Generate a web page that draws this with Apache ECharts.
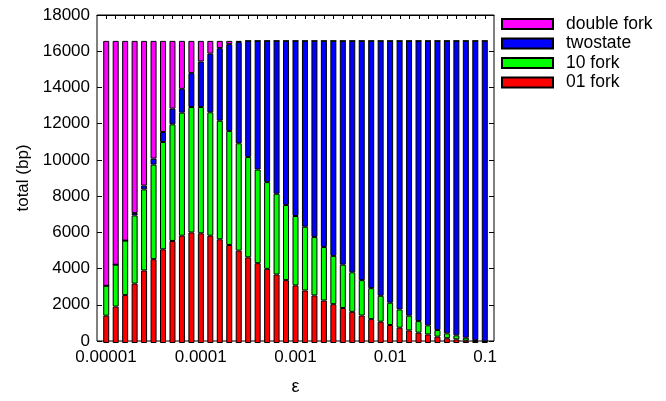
<!DOCTYPE html>
<html>
<head>
<meta charset="utf-8">
<script src="https://cdn.jsdelivr.net/npm/echarts@6/dist/echarts.min.js"></script>
<style>
  html, body { margin: 0; padding: 0; background: #fff; }
  #chart { width: 666px; height: 401px; }
</style>
</head>
<body>
<div id="chart"></div>
<script>
// epsilon values, ten per decade
var eps = [
  0.00001, 0.0000126, 0.0000158, 0.00002, 0.0000251, 0.0000316, 0.0000398, 0.0000501, 0.0000631, 0.0000794,
  0.0001, 0.000126, 0.000158, 0.0002, 0.000251, 0.000316, 0.000398, 0.000501, 0.000631, 0.000794,
  0.001, 0.00126, 0.00158, 0.002, 0.00251, 0.00316, 0.00398, 0.00501, 0.00631, 0.00794,
  0.01, 0.0126, 0.0158, 0.02, 0.0251, 0.0316, 0.0398, 0.0501, 0.0631, 0.0794,
  0.1
];
var fork01 = [1500, 2000, 2630, 3260, 3980, 4600, 5140, 5600, 5890, 6070,
  6020, 5890, 5690, 5380, 5070, 4700, 4380, 4070, 3760, 3450,
  3160, 2880, 2610, 2330, 2130, 1920, 1710, 1510, 1310, 1170,
  990, 840, 690, 570, 470, 350, 260, 200, 130, 110, 70];
var fork10 = [1640, 2300, 2990, 3740, 4450, 5190, 5890, 6400, 6750, 6880,
  6930, 6770, 6510, 6260, 5890, 5510, 5140, 4760, 4430, 4120,
  3810, 3500, 3210, 2940, 2650, 2380, 2170, 1940, 1700, 1420,
  1220, 1000, 810, 630, 500, 360, 270, 220, 160, 40, 20];
var twostate = [0, 0, 0, 130, 210, 330, 550, 860, 1310, 1860,
  2500, 3220, 3980, 4760, 5560, 6370, 7060, 7750, 8390, 9010,
  9610, 10200, 10760, 11310, 11800, 12280, 12700, 13130, 13570, 13990,
  14370, 14740, 15080, 15380, 15610, 15870, 16050, 16160, 16290, 16430, 16490];
var doubleFork = [13440, 12280, 10960, 9450, 7940, 6460, 5000, 3720, 2630, 1770,
  1130, 700, 400, 180, 60, 0, 0, 0, 0, 0,
  0, 0, 0, 0, 0, 0, 0, 0, 0, 0,
  0, 0, 0, 0, 0, 0, 0, 0, 0, 0, 0];
var xTicks = [0.00001, 0.0001, 0.001, 0.01, 0.1];
var xTickLabels = ['0.00001', '0.0001', '0.001', '0.01', '0.1'];

var font = 'Liberation Sans, Arial, Helvetica, sans-serif';
var chart = echarts.init(document.getElementById('chart'));

function barSeries(name, vals, color) {
  return {
    name: name,
    type: 'bar',
    stack: 'total',
    xAxisIndex: 2,
    yAxisIndex: 2,
    barWidth: 6,
    data: vals,
    itemStyle: { color: color, borderColor: '#000', borderWidth: 1 },
    emphasis: { disabled: true }
  };
}

var option = {
  animation: false,
  textStyle: { fontFamily: font },
  grid: [
    // frame with the log scale
    { left: 97, right: 172, top: 15, bottom: 58, show: true, borderColor: '#000', borderWidth: 1, backgroundColor: 'transparent' },
    // bars, one band per epsilon
    { left: 101.5, right: 176.5, top: 15, bottom: 58 }
  ],
  legend: {
    orient: 'vertical',
    left: 501,
    top: 15,
    padding: 0,
    itemWidth: 51,
    itemHeight: 10,
    itemGap: 1.5,
    icon: 'rect',
    data: ['double fork', 'twostate', '10 fork', '01 fork'],
    textStyle: { fontSize: 17.5, color: '#000', fontFamily: font, lineHeight: 17, padding: [0, 0, 0, 8] }
  },
  xAxis: [{
    gridIndex: 0,
    type: 'log',
    logBase: 10,
    min: 0.00000804,
    max: 0.1244,
    name: 'ε',
    nameLocation: 'middle',
    nameGap: 37,
    nameTextStyle: { fontSize: 18, color: '#000', fontFamily: font },
    axisLine: { show: false, onZero: false },
    axisTick: { show: false },
    splitLine: { show: false },
    axisLabel: {
      customValues: xTicks,
      fontSize: 17,
      color: '#000',
      margin: 8,
      formatter: function (v) {
        var k = Math.round(Math.log10(v)) + 5;
        return xTickLabels[k] || '';
      }
    }
  }, {
    // mirrored ticks along the top border, one per bar
    gridIndex: 0,
    type: 'log',
    logBase: 10,
    position: 'top',
    min: 0.00000804,
    max: 0.1244,
    axisLine: { show: true, onZero: false, lineStyle: { color: '#000', width: 1 } },
    axisTick: { show: true, inside: true, length: 4, customValues: eps, lineStyle: { color: '#000', width: 1 } },
    axisLabel: { show: false },
    splitLine: { show: false }
  }, {
    gridIndex: 1,
    type: 'category',
    data: eps,
    show: false
  }],
  yAxis: [{
    gridIndex: 0,
    type: 'value',
    min: 0,
    max: 18000,
    interval: 2000,
    name: 'total (bp)',
    nameLocation: 'middle',
    nameGap: 55,
    nameRotate: 90,
    nameTextStyle: { fontSize: 17, color: '#000', fontFamily: font },
    axisLine: { show: false },
    axisTick: { show: true, inside: true, length: 5, lineStyle: { color: '#000' } },
    axisLabel: { fontSize: 17, color: '#000', margin: 7, formatter: function (v) { return String(v); } },
    splitLine: { show: false }
  }, {
    gridIndex: 0,
    type: 'value',
    position: 'right',
    min: 0,
    max: 18000,
    interval: 2000,
    axisLine: { show: false },
    axisTick: { show: true, inside: true, length: 5, lineStyle: { color: '#000' } },
    axisLabel: { show: false },
    splitLine: { show: false }
  }, {
    gridIndex: 1,
    type: 'value',
    min: 0,
    max: 18000,
    show: false
  }],
  series: [
    barSeries('01 fork', fork01, '#ff0000'),
    barSeries('10 fork', fork10, '#00ff00'),
    barSeries('twostate', twostate, '#0000ff'),
    barSeries('double fork', doubleFork, '#ff00ff')
  ]
};
chart.setOption(option);
</script>
</body>
</html>
